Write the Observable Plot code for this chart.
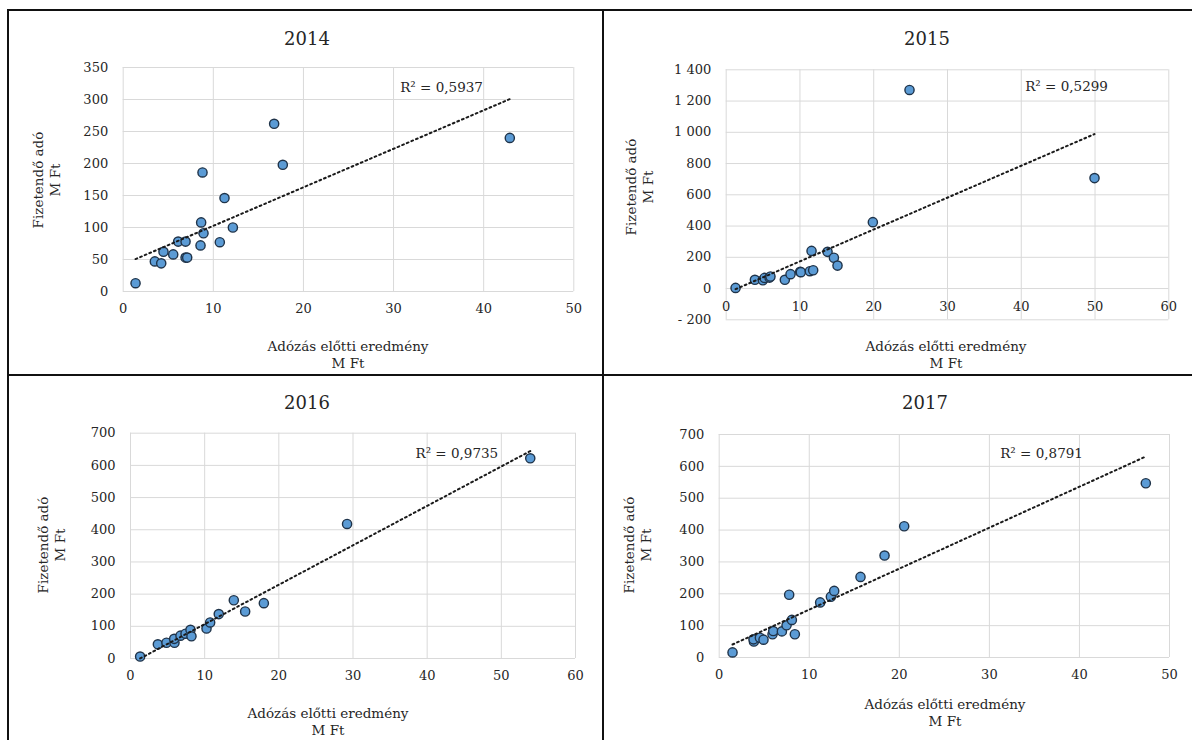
<!DOCTYPE html>
<html><head><meta charset="utf-8">
<script src="https://cdn.jsdelivr.net/npm/d3@7"></script>
<script src="https://cdn.jsdelivr.net/npm/@observablehq/plot@0.6"></script>
<style>
body{margin:0;background:#fff;}
#root{position:relative;width:1192px;height:740px;overflow:hidden;font-family:"DejaVu Serif",serif;color:#262626;background:#fff;}
.line{position:absolute;background:#111;}
.lbl{position:absolute;white-space:nowrap;text-align:center;font-size:13.5px;line-height:17px;}
.ttl{position:absolute;white-space:nowrap;font-size:18px;transform:translate(-50%,-50%);}
#root svg{position:absolute;overflow:visible;}
</style></head><body><div id="root"></div>
<script>
// ---- data ----
const years = ["2014", "2015", "2016", "2017"];
const r2Labels = ["R² = 0,5937", "R² = 0,5299", "R² = 0,9735", "R² = 0,8791"];
const xTitle = ["Adózás előtti eredmény", "M Ft"];
const yTitle = ["Fizetendő adó", "M Ft"];

const x2014 = [1.37, 3.51, 4.22, 4.47, 5.55, 6.1, 6.92, 6.92, 7.1, 8.58, 8.65, 8.91, 8.8, 10.72, 11.24, 12.17, 16.75, 17.71, 42.9];
const y2014 = [13, 47, 44, 62, 58, 78, 78, 53, 53, 72, 108, 91, 186, 77, 146, 100, 262, 198, 240];

const x2015 = [1.27, 3.89, 4.97, 5.2, 5.87, 6.0, 7.95, 8.72, 10.03, 10.12, 11.34, 11.79, 11.57, 13.74, 14.6, 15.09, 19.88, 24.85, 49.93];
const y2015 = [4, 56, 53, 68, 70, 77, 56, 92, 107, 105, 111, 117, 241, 235, 197, 147, 425, 1271, 707];

const x2016 = [1.3, 3.69, 4.85, 5.93, 5.89, 6.74, 7.42, 8.09, 8.22, 10.25, 10.74, 11.9, 13.93, 15.46, 17.98, 29.2, 53.9];
const y2016 = [6, 44, 49, 49, 61, 71, 77, 89, 69, 93, 112, 138, 181, 146, 172, 418, 622];

const x2017 = [1.48, 3.85, 3.81, 4.52, 4.92, 5.92, 6.0, 6.96, 7.48, 8.07, 7.77, 8.4, 11.21, 12.4, 12.77, 15.69, 18.36, 20.54, 47.37];
const y2017 = [16, 50, 57, 62, 56, 73, 83, 82, 101, 118, 197, 73, 173, 191, 209, 253, 320, 412, 547];

// linear trend lines: y = slope * x + intercept
const trendSlope = [6.02, 20.4, 12.25, 12.86];
const trendIntercept = [42.4, -30, -15.8, 21.7];

const xTicks = [[0, 10, 20, 30, 40, 50], [0, 10, 20, 30, 40, 50, 60], [0, 10, 20, 30, 40, 50, 60], [0, 10, 20, 30, 40, 50]];
const yTicks = [[0, 50, 100, 150, 200, 250, 300, 350],
  [-200, 0, 200, 400, 600, 800, 1000, 1200, 1400],
  [0, 100, 200, 300, 400, 500, 600, 700],
  [0, 100, 200, 300, 400, 500, 600, 700]];
const yTickLabels = [["0", "50", "100", "150", "200", "250", "300", "350"],
  ["- 200", "0", "200", "400", "600", "800", "1 000", "1 200", "1 400"],
  ["0", "100", "200", "300", "400", "500", "600", "700"],
  ["0", "100", "200", "300", "400", "500", "600", "700"]];

const xs = [x2014, x2015, x2016, x2017];
const ys = [y2014, y2015, y2016, y2017];

// ---- layout ----
const root = document.getElementById("root");
function line(l, t, w, h) { const d = document.createElement("div"); d.className = "line"; Object.assign(d.style, {left: l + "px", top: t + "px", width: w + "px", height: h + "px"}); root.appendChild(d); }
line(7, 9, 1185, 2); line(7, 9, 2, 731); line(602, 9, 2, 731); line(7, 374, 1185, 2);

const panels = [
  {left: 9, top: 11, width: 594, height: 364, ml: 113.7, mr: 29.7, mt: 56, mb: 84, r2dx: 277, r2dy: 20,
   title: [307, 38], xl: [348, 355], yl: [47, 180]},
  {left: 604, top: 11, width: 588, height: 364, ml: 121.7, mr: 23.7, mt: 58.3, mb: 55.7, r2dx: 299, r2dy: 17,
   title: [927, 38], xl: [946, 355], yl: [640, 187]},
  {left: 9, top: 376, width: 594, height: 364, ml: 121, mr: 28, mt: 56.7, mb: 82, r2dx: 285, r2dy: 20,
   title: [307, 402], xl: [328, 722], yl: [52, 545]},
  {left: 604, top: 376, width: 588, height: 364, ml: 114.7, mr: 23, mt: 58, mb: 83, r2dx: 281, r2dy: 19,
   title: [925, 402], xl: [945, 713], yl: [638, 545]}
];

const FONT = "DejaVu Serif";
panels.forEach((p, i) => {
  const data = xs[i].map((x, k) => ({x, y: ys[i][k]}));
  const xmin = d3.min(xs[i]), xmax = d3.max(xs[i]);
  const trend = [xmin, xmax].map(x => ({x, y: trendSlope[i] * x + trendIntercept[i]}));
  const xd = d3.extent(xTicks[i]), yd = d3.extent(yTicks[i]);
  const labelMap = new Map(yTicks[i].map((v, k) => [v, yTickLabels[i][k]]));
  const marks = [
    Plot.gridX(xTicks[i], {stroke: "#d9d9d9", strokeOpacity: 1, strokeWidth: 1}),
    Plot.gridY(yTicks[i], {stroke: "#d9d9d9", strokeOpacity: 1, strokeWidth: 1}),
    Plot.axisY(yTicks[i], {tickSize: 0, tickPadding: 15, tickFormat: d => labelMap.get(d), fontSize: 13, fontFamily: FONT, fill: "#262626", label: null}),
    Plot.dot(data, {x: "x", y: "y", r: 4.6, fill: "#5b9bd5", stroke: "#1f3349", strokeWidth: 1.4}),
    Plot.line(trend, {x: "x", y: "y", stroke: "#1a1a1a", strokeWidth: 2, strokeDasharray: "1.8 3.2"}),
    Plot.text([r2Labels[i]], {frameAnchor: "top-left", text: d => d, dx: p.r2dx, dy: p.r2dy, textAnchor: "start", lineAnchor: "middle", fontSize: 13.5, fontFamily: FONT, fill: "#262626"})
  ];
  if (i === 1) {
    marks.push(Plot.text(xTicks[i], {x: d => d, y: d => 0, dy: 18, text: d => String(d), fontSize: 13, fontFamily: FONT, fill: "#262626"}));
  } else {
    marks.push(Plot.axisX(xTicks[i], {tickSize: 0, tickPadding: 12, fontSize: 13, fontFamily: FONT, fill: "#262626", label: null}));
  }
  const svg = Plot.plot({
    width: p.width, height: p.height,
    marginLeft: p.ml, marginRight: p.mr, marginTop: p.mt, marginBottom: p.mb,
    x: {domain: xd, label: null, axis: i === 1 ? null : undefined},
    y: {domain: yd, label: null},
    style: {fontFamily: FONT, background: "transparent", color: "#262626"},
    marks
  });
  svg.style.left = p.left + "px"; svg.style.top = p.top + "px";
  root.appendChild(svg);

  const t = document.createElement("div"); t.className = "ttl"; t.textContent = years[i];
  t.style.left = p.title[0] + "px"; t.style.top = p.title[1] + "px"; root.appendChild(t);

  const xl = document.createElement("div"); xl.className = "lbl"; xl.innerHTML = xTitle.join("<br>");
  xl.style.left = p.xl[0] + "px"; xl.style.top = p.xl[1] + "px"; xl.style.transform = "translate(-50%,-50%)"; root.appendChild(xl);

  const yl = document.createElement("div"); yl.className = "lbl"; yl.innerHTML = yTitle.join("<br>");
  yl.style.left = p.yl[0] + "px"; yl.style.top = p.yl[1] + "px"; yl.style.transform = "translate(-50%,-50%) rotate(-90deg)"; root.appendChild(yl);
});
</script></body></html>
